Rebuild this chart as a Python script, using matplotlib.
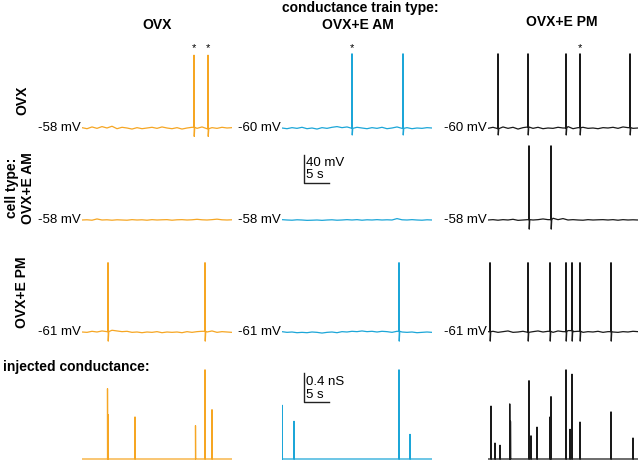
import matplotlib
matplotlib.use("Agg")
import matplotlib.pyplot as plt

plt.rcParams['font.family'] = ['Liberation Sans', 'DejaVu Sans']

# ---- data (times in s, voltages in mV, conductance in nS) ----
DUR = 30.0
col_names = ["OVX", "OVX+E AM", "OVX+E PM"]
row_names = ["OVX", "cell type:\nOVX+E AM", "OVX+E PM"]
colors = ["#F6A623", "#1CA6D8", "#1A1A1A"]

rest_mv = [[-58, -60, -60],
           [-58, -58, -58],
           [-61, -61, -61]]
spike_peak = [46, 48, 38]
spike_trough = [-70, -71, -74]

spike_times = [
    [[22.4, 25.2], [14.0, 24.2], [2.0, 8.0, 15.6, 18.4, 28.4]],
    [[], [], [8.2, 12.6]],
    [[5.2, 24.6], [23.4], [0.4, 8.0, 12.4, 15.6, 16.8, 18.4, 24.6]],
]
# spontaneous spikes marked with a star (row 1)
star_times = [[22.4, 25.2], [14.0], [18.4]]

# baseline fluctuation around rest, one value per second (mV), read roughly
baseline_wiggle = [
    [[0.5, -1.0, 1.5, -0.5, 2.0, 0.0, 2.5, -1.0, 1.0, 0.0, -1.5, 0.5, -1.0,
      0.0, 1.0, -0.5, 1.5, 0.0, -1.0, 0.5, -1.5, 0.0, 1.0, -0.5, 1.5, -1.0,
      0.5, -0.5, 1.0, 0.0, 0.5],
     [0.0, -1.0, 0.5, -0.5, 1.0, -1.0, 0.0, -1.5, 0.5, -0.5, 1.0, 2.0, 0.5,
      1.5, -0.5, 1.0, 0.0, -1.0, 0.5, -0.5, 1.0, -1.0, 0.0, 1.5, -0.5, 0.5,
      -1.0, 0.0, -0.5, 0.5, 0.0],
     [-0.5, 1.0, -1.0, 1.5, -0.5, 1.0, -1.5, 0.5, 1.5, -0.5, 1.0, -1.0, 0.0,
      -0.5, 1.0, 0.0, 2.0, -1.0, 0.5, 1.0, -0.5, 0.0, -1.0, 0.5, 0.0, 1.0,
      -0.5, 1.5, 0.5, -0.5, 0.0]],
    [[0.0, 0.3, -0.3, 1.5, 0.0, 0.3, -0.3, 0.3, 0.0, -0.3, 0.5, 0.0, 0.3,
      -0.3, 0.5, 0.0, 0.3, 0.5, -0.3, 0.3, 0.5, 0.0, 0.3, 1.0, 0.3, 0.0,
      0.5, 1.2, 0.3, 0.0, 0.3],
     [0.5, 0.0, -0.3, 0.3, 0.0, -0.5, -0.3, 0.0, -0.5, 0.0, 0.3, -0.3, 0.0,
      0.5, 0.0, 0.5, -0.3, 0.3, 0.0, 0.5, 0.0, 0.3, 0.0, 2.0, 0.3, 0.0,
      0.5, 0.0, -0.3, 0.3, 0.0],
     [0.0, 0.5, -0.3, 0.5, 0.0, 1.0, -0.5, 0.0, 0.5, 0.0, 0.5, 1.5, 0.5,
      2.5, 0.5, 2.0, 0.0, 0.5, 0.0, -0.3, 0.5, 0.0, 0.3, 0.5, 0.0, 0.5,
      -0.3, 0.5, 0.0, 0.3, 0.0]],
    [[0.0, -0.5, 1.0, 0.0, 1.5, 0.5, 2.5, 1.5, 0.5, 1.0, -0.5, 0.0, -1.0,
      0.0, -0.5, 0.5, -1.0, 0.0, -0.5, 0.0, -1.0, 0.5, -0.5, 0.5, 1.0, 0.0,
      1.5, -0.5, 0.5, 0.0, -0.5],
     [0.5, -0.5, 0.0, -1.0, -0.5, -1.0, 0.0, -0.5, -1.5, -0.5, 0.0, -1.0,
      0.5, 0.0, 1.0, 0.5, 1.5, 0.5, 1.0, 0.0, 1.0, 0.5, -0.5, 1.0, 0.0,
      -0.5, 0.0, -1.0, -0.5, 0.0, -0.5],
     [0.5, 1.0, -0.5, 0.5, 1.5, -0.5, 0.0, 1.0, -0.5, 0.5, 1.5, 0.0, 1.0,
      -0.5, 1.5, 0.5, 2.0, 0.5, 1.0, -0.5, 0.5, 0.0, 1.0, -0.5, 0.5, 0.0,
      -0.5, 0.5, 0.0, 1.0, 0.5]],
]

cond_times = [
    [5.1, 5.25, 10.6, 22.7, 24.6, 26.0],
    [0.05, 2.4, 23.4, 25.6],
    [0.6, 1.4, 2.4, 4.35, 4.5, 8.2, 8.6, 9.8, 12.4, 12.6, 15.6, 16.4, 16.8,
     18.4, 24.6, 29.0],
]
cond_vals = [
    [0.97, 0.61, 0.58, 0.46, 1.23, 0.68],
    [0.74, 0.52, 1.23, 0.34],
    [0.73, 0.22, 0.19, 0.76, 0.52, 1.08, 0.32, 0.44, 0.58, 0.86, 1.23, 0.41,
     1.17, 0.51, 0.65, 0.29],
]

# ---- layout in pixels ----
W, H = 642, 462
col_x0 = [82, 282, 488]
span_px = 150
row_base = [128, 220, 332]
cond_base = 459
px_mv = 0.7
px_ns = 72.5

fig = plt.figure(figsize=(W / 100, H / 100), dpi=100)


def panel(x0, ybase, below, above, ppu, y0):
    ax = fig.add_axes([x0 / W, (H - ybase - below) / H, span_px / W,
                       (below + above) / H])
    ax.set_xlim(0, DUR)
    ax.set_ylim(y0 - below / ppu, y0 + above / ppu)
    ax.axis('off')
    return ax


def trace(spikes, base, wiggle, peak, trough):
    pts = [(float(i), 0, base + w) for i, w in enumerate(wiggle)]
    for s in spikes:
        b = base + wiggle[int(s)]
        pts += [(s, 1, b), (s + 0.001, 1, peak), (s + 0.05, 1, trough),
                (s + 0.15, 1, b)]
    pts.sort(key=lambda p: (p[0], p[1]))
    return [p[0] for p in pts], [p[2] for p in pts]


axes = {}
for r in range(3):
    for c in range(3):
        rest = rest_mv[r][c]
        ax = panel(col_x0[c], row_base[r], 20, 90, px_mv, rest)
        axes[(r, c)] = ax
        t, v = trace(spike_times[r][c], rest, baseline_wiggle[r][c],
                     spike_peak[r], spike_trough[r])
        ax.plot(t, v, color=colors[c], lw=0.9)
        ax.text(-0.15, rest, f"-{abs(rest)} mV", ha='right', va='center',
                fontsize=9.5, clip_on=False)
        if r == 0:
            for s in star_times[c]:
                ax.text(s, rest + 114, "*", ha='center', va='center',
                        fontsize=8, clip_on=False)

for c in range(3):
    ax = panel(col_x0[c], cond_base, 3, 100, px_ns, 0.0)
    axes[(3, c)] = ax
    t, g = [0.0], [0.0]
    for s, val in sorted(zip(cond_times[c], cond_vals[c])):
        t += [s, s, s + 0.03]
        g += [0.0, val, 0.0]
    t.append(DUR)
    g.append(0.0)
    ax.plot(t, g, color=colors[c], lw=0.9)

# scale bars
ax = axes[(1, 1)]
ax.plot([4.4, 4.4, 9.4], [35, -5, -5], color='#222222', lw=1.0, clip_on=False)
ax.text(4.8, 24, "40 mV", ha='left', va='center', fontsize=9.5)
ax.text(4.8, 6, "5 s", ha='left', va='center', fontsize=9.5)

ax = axes[(3, 1)]
ax.plot([4.4, 4.4, 9.4], [1.19, 0.79, 0.79], color='#222222', lw=1.0,
        clip_on=False)
ax.text(4.8, 1.06, "0.4 nS", ha='left', va='center', fontsize=9.5)
ax.text(4.8, 0.88, "5 s", ha='left', va='center', fontsize=9.5)


def ftext(x, y, s, **kw):
    fig.text(x / W, 1 - y / H, s, **kw)


# column titles
ftext(360, 8, "conductance train type:", ha='center', va='center',
      fontsize=10, fontweight='bold')
ftext(157, 25, col_names[0], ha='center', va='center', fontsize=10,
      fontweight='bold')
ftext(358, 25, col_names[1], ha='center', va='center', fontsize=10,
      fontweight='bold')
ftext(562, 22, col_names[2], ha='center', va='center', fontsize=10,
      fontweight='bold')

# row titles
ftext(22, 100, row_names[0], ha='center', va='center', rotation=90,
      fontsize=10, fontweight='bold')
ftext(20, 188, row_names[1], ha='center', va='center', rotation=90,
      fontsize=10, fontweight='bold', multialignment='center')
ftext(22, 292, row_names[2], ha='center', va='center', rotation=90,
      fontsize=10, fontweight='bold')
ftext(3, 367, "injected conductance:", ha='left', va='center', fontsize=10,
      fontweight='bold')

fig.savefig("out.png", dpi=100)
